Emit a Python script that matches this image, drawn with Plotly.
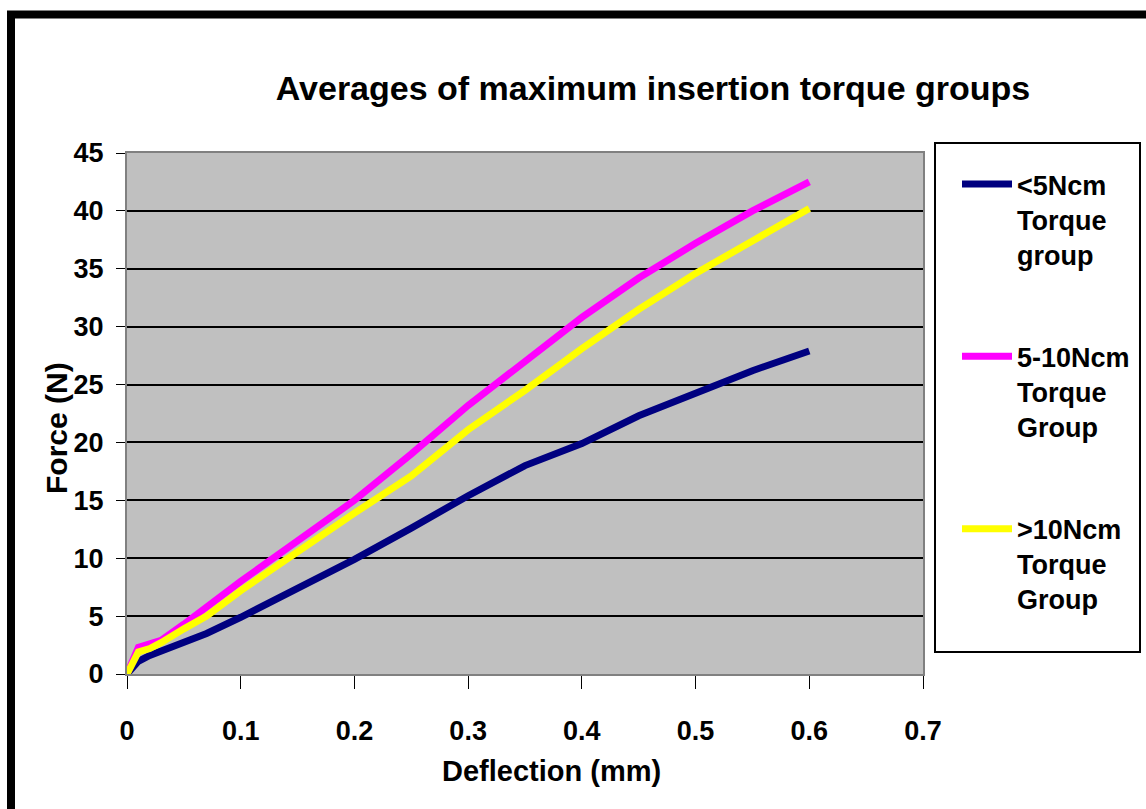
import plotly.graph_objects as go

# ---- data ----
deflection_mm = [0, 0.005, 0.01, 0.02, 0.03, 0.05, 0.07, 0.1, 0.15, 0.2, 0.25, 0.3,
                 0.35, 0.4, 0.45, 0.5, 0.55, 0.6]
force_lt5 = [0, 0.6, 1.1, 1.6, 2.0, 2.8, 3.5, 4.9, 7.4, 9.9, 12.6, 15.4,
             18.0, 19.9, 22.3, 24.3, 26.2, 27.9]
force_5_10 = [0, 1.2, 2.3, 2.6, 2.9, 4.3, 5.8, 8.0, 11.5, 15.0, 19.0, 23.2,
              27.0, 30.8, 34.2, 37.2, 40.0, 42.5]
force_gt10 = [0, 1.0, 1.9, 2.2, 2.7, 3.9, 5.0, 7.2, 10.6, 13.9, 17.1, 21.1,
              24.5, 28.1, 31.5, 34.6, 37.4, 40.2]

series_names = ["&lt;5Ncm<br>Torque<br>group",
                "5-10Ncm<br>Torque<br>Group",
                "&gt;10Ncm<br>Torque<br>Group"]
series_colors = ["#000080", "#FF00FF", "#FFFF00"]
x_ticks = [0, 0.1, 0.2, 0.3, 0.4, 0.5, 0.6, 0.7]
y_ticks = [0, 5, 10, 15, 20, 25, 30, 35, 40, 45]

FONT = "Liberation Sans, Arial, sans-serif"

fig = go.Figure()
for name, ys, col in zip(series_names, [force_lt5, force_5_10, force_gt10], series_colors):
    fig.add_trace(go.Scatter(x=deflection_mm, y=ys, mode="lines", name=name,
                             legendgroup=name,
                             line=dict(color=col, width=7)))

fig.update_layout(
    width=1146, height=809,
    margin=dict(l=127, r=223, t=153, b=135, autoexpand=False),
    paper_bgcolor="white",
    plot_bgcolor="#C0C0C0",
    title=dict(text="Averages of maximum insertion torque groups",
               font=dict(family=FONT, size=34, color="black", weight="bold"),
               x=(653 - 127) / 796, xref="paper", xanchor="center",
               y=1 - 88 / 809, yref="container", yanchor="middle"),
    showlegend=True,
    legend=dict(x=(957 - 127) / 796, y=(674 - 160) / 521, xanchor="left", yanchor="top",
                bgcolor="rgba(0,0,0,0)", borderwidth=0,
                font=dict(family=FONT, size=27, color="black", weight="bold"),
                valign="top", tracegroupgap=64, itemwidth=50),
    xaxis=dict(range=[0, 0.7], tickvals=x_ticks, ticktext=[str(v) for v in x_ticks],
               showgrid=False, zeroline=False,
               showline=True, linecolor="#808080", linewidth=2, mirror=True,
               ticks="outside", ticklen=13, tickcolor="black", tickwidth=1,
               ticklabelstandoff=19,
               tickfont=dict(family=FONT, size=27, color="black", weight="bold")),
    yaxis=dict(range=[0, 45], tickvals=y_ticks,
               showgrid=True, gridcolor="black", gridwidth=1.5,
               zeroline=True, zerolinecolor="black", zerolinewidth=2,
               showline=True, linecolor="#808080", linewidth=2, mirror=True,
               ticks="outside", ticklen=9, tickcolor="black", tickwidth=1,
               ticklabelstandoff=7,
               tickfont=dict(family=FONT, size=27, color="black", weight="bold")),
    annotations=[
        dict(text="Deflection (mm)", xref="paper", yref="paper",
             x=(551 - 127) / 796, y=(674 - 771) / 521, xanchor="center", yanchor="middle",
             showarrow=False,
             font=dict(family=FONT, size=29, color="black", weight="bold")),
        dict(text="Force (N)", xref="paper", yref="paper", textangle=-90,
             x=(56 - 127) / 796, y=(674 - 428) / 521, xanchor="center", yanchor="middle",
             showarrow=False,
             font=dict(family=FONT, size=30, color="black", weight="bold")),
    ],
    shapes=[
        dict(type="rect", xref="paper", yref="paper",
             x0=(11 - 127) / 796, x1=1.6, y0=-0.6, y1=(674 - 14.5) / 521,
             line=dict(color="black", width=8)),
        dict(type="rect", xref="paper", yref="paper",
             x0=(935 - 127) / 796, x1=(1140 - 127) / 796,
             y0=(674 - 652) / 521, y1=(674 - 143) / 521,
             line=dict(color="black", width=2)),
    ],
)

fig.write_html("out.html")
